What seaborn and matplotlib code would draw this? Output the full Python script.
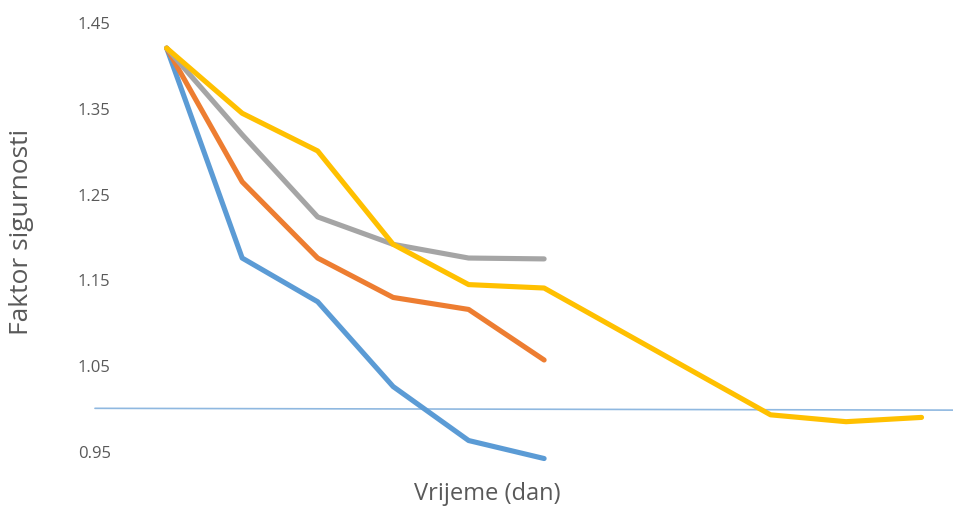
import numpy as np
import pandas as pd
import matplotlib
matplotlib.use("Agg")
import matplotlib.pyplot as plt
import seaborn as sns

# ==============================
# DATA
# ==============================
days_short = [1, 2, 3, 4, 5, 6]
blue_vals = [1.421, 1.176, 1.125, 1.026, 0.963, 0.942]
orange_vals = [1.421, 1.265, 1.176, 1.130, 1.116, 1.057]
gray_vals = [1.421, 1.320, 1.224, 1.192, 1.176, 1.175]

days_long = [1, 2, 3, 4, 5, 6, 9, 10, 11]
yellow_vals = [1.421, 1.345, 1.301, 1.192, 1.145, 1.141, 0.993, 0.985, 0.990]

series_names = ["A", "B", "C", "D"]
series_colors = ["#5B9BD5", "#ED7D31", "#A5A5A5", "#FFC000"]

# reference line (safety factor = 1.0), slightly tilted in the original
ref_x = [0.05, 11.43]
ref_y = [1.0006, 0.9985]

y_ticks = [0.95, 1.05, 1.15, 1.25, 1.35, 1.45]

# ==============================
# LONG FORMAT
# ==============================
frames = []
for name, x, y in zip(series_names,
                      [days_short, days_short, days_short, days_long],
                      [blue_vals, orange_vals, gray_vals, yellow_vals]):
    frames.append(pd.DataFrame({"day": x, "fs": y, "series": name}))
df = pd.concat(frames, ignore_index=True)

# ==============================
# PLOT
# ==============================
sns.set_style("white")
plt.rcParams['font.family'] = ['Open Sans', 'DejaVu Sans']

fig = plt.figure(figsize=(9.54, 5.11), dpi=100)
ax = fig.add_axes([0.0956, 0.0658, 0.9044, 0.9054])

ax.plot(ref_x, ref_y, color="#8FB8E0", lw=1.2, clip_on=False, zorder=1)

sns.lineplot(data=df, x="day", y="fs", hue="series",
             palette=dict(zip(series_names, series_colors)),
             linewidth=3.7, legend=False, ax=ax, zorder=3,
             solid_capstyle="round", solid_joinstyle="round")

ax.set_xlim(0, 11.43)
ax.set_ylim(0.92, 1.46)
ax.set_yticks(y_ticks)
ax.set_yticklabels([f"{t:.2f}" for t in y_ticks])
ax.set_xticks([])
ax.tick_params(axis="y", length=0, pad=-14, labelsize=12, labelcolor="#595959")

sns.despine(ax=ax, left=True, bottom=True)

ax.set_xlabel("")
ax.set_ylabel("")
fig.text(487 / 954, 1 - 494 / 511, "Vrijeme (dan)", fontsize=17,
         color="#595959", ha="center", va="center")
fig.text(0.023, 1 - 232 / 511, "Faktor sigurnosti", rotation=90, fontsize=19,
         color="#595959", ha="center", va="center")

fig.savefig("out.png", dpi=100)
